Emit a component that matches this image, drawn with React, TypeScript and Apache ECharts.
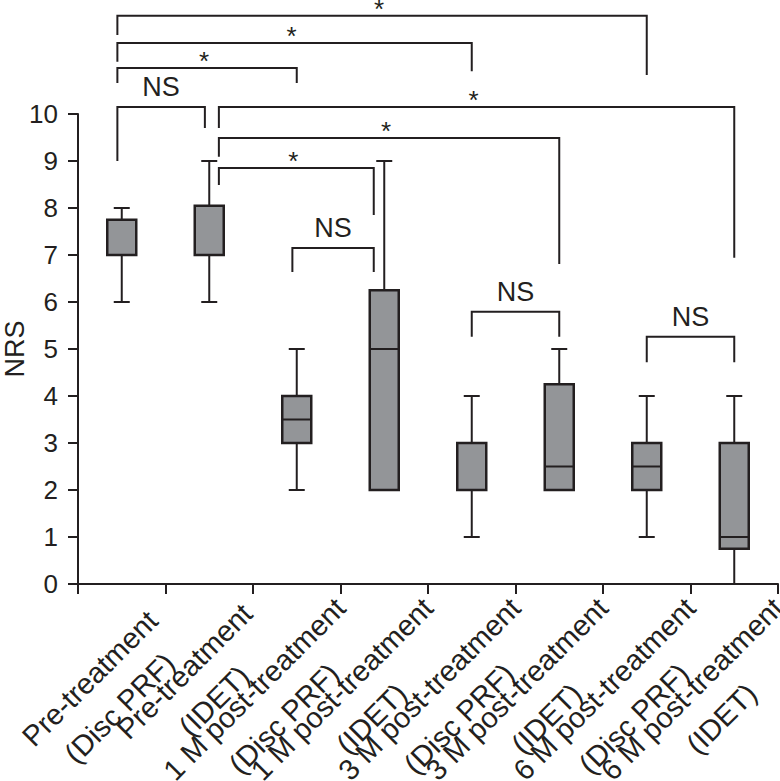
import React, { useEffect, useRef } from "react";
import * as echarts from "echarts";

const categories = [
  "Pre-treatment\n(Disc PRF)",
  "Pre-treatment\n(IDET)",
  "1 M post-treatment\n(Disc PRF)",
  "1 M post-treatment\n(IDET)",
  "3 M post-treatment\n(Disc PRF)",
  "3 M post-treatment\n(IDET)",
  "6 M post-treatment\n(Disc PRF)",
  "6 M post-treatment\n(IDET)",
];
const boxMin = [6, 6, 2, 2, 1, 2, 1, 0];
const boxQ1 = [7, 7, 3, 2, 2, 2, 2, 0.75];
const boxMedian = [7, 7, 3.5, 5, 2, 2.5, 2.5, 1];
const boxQ3 = [7.75, 8.05, 4, 6.25, 3, 4.25, 3, 3];
const boxMax = [8, 9, 5, 9, 4, 5, 4, 4];

// Significance brackets (x in category-index units, y in NRS units)
const bracketX1 = [-0.05, -0.05, -0.05, -0.05, 1.11, 1.11, 1.11, 1.95, 4.0, 6.0];
const bracketX2 = [6.0, 4.0, 2.0, 0.95, 7.0, 5.0, 2.88, 2.88, 5.0, 7.0];
const bracketY = [12.09, 11.51, 10.98, 10.15, 10.15, 9.49, 8.85, 7.15, 5.79, 5.26];
const bracketLegLeft = [11.68, 11.11, 10.66, 9.0, 9.7, 9.09, 8.49, 6.64, 5.26, 4.72];
const bracketLegRight = [10.83, 10.91, 10.66, 9.7, 6.94, 6.81, 7.85, 6.64, 5.26, 4.72];
const bracketLabels = ["*", "*", "*", "NS", "*", "*", "*", "NS", "NS", "NS"];

const yTicks = [0, 10, 1];

const INK = "#231f20";
const FILL = "#939598";
const FONT = "'Liberation Sans', Arial, Helvetica, sans-serif";
// per-label leftward nudge (px, along the text direction)
const LABEL_NUDGE = [18, 8, 0, 0, 0, 0, 0, 0];

function measure(text: string, font: string): number {
  const ctx = document.createElement("canvas").getContext("2d");
  if (!ctx) return text.length * 14;
  ctx.font = font;
  return ctx.measureText(text).width;
}

export default function App() {
  const ref = useRef<HTMLDivElement>(null);
  useEffect(() => {
    if (!ref.current) return;
    const chart = echarts.init(ref.current, undefined, { renderer: "svg" });
    const labelSize = 29;
    const rich: Record<string, any> = {};
    categories.forEach((c, i) => {
      const lines = c.split("\n");
      const w = Math.ceil(Math.max(...lines.map((l) => measure(l, `${labelSize}px ${FONT}`))));
      rich["l" + i] = {
        width: w,
        align: "center",
        fontSize: labelSize,
        lineHeight: 42,
        fontFamily: FONT,
        color: INK,
        padding: [0, LABEL_NUDGE[i], 0, 0],
      };
    });

    const boxData = categories.map((_, i) => [i, boxMin[i], boxQ1[i], boxMedian[i], boxQ3[i], boxMax[i]]);
    const bracketData = bracketY.map((y, i) => [bracketX1[i], bracketX2[i], y, bracketLegLeft[i], bracketLegRight[i]]);

    const option: any = {
      animation: false,
      backgroundColor: "#ffffff",
      grid: { left: 78, right: 2, top: 114, bottom: 197, containLabel: false, outerBoundsMode: "none" },
      xAxis: [
        {
          type: "category",
          data: categories,
          boundaryGap: true,
          axisLine: { onZero: false, lineStyle: { color: INK, width: 2 } },
          axisTick: { show: true, length: 10, lineStyle: { color: INK, width: 2 } },
          axisLabel: {
            interval: 0,
            rotate: 45,
            margin: -25,
            verticalAlign: "top",
            padding: [41, 0, 0, 0],
            hideOverlap: false,
            formatter: (v: string, idx: number) =>
              v.split("\n").map((s) => `{l${idx}|${s}}`).join("\n"),
            rich,
          },
          splitLine: { show: false },
        },
        {
          type: "value",
          min: -0.5,
          max: 7.5,
          show: false,
        },
      ],
      yAxis: {
        type: "value",
        min: yTicks[0],
        max: yTicks[1],
        interval: yTicks[2],
        name: "NRS",
        nameLocation: "middle",
        nameRotate: 90,
        nameGap: 50,
        nameMoveOverlap: false,
        nameTextStyle: { fontSize: 27, fontFamily: FONT, color: INK },
        axisLine: { show: true, onZero: false, lineStyle: { color: INK, width: 2 } },
        axisTick: { show: true, length: 10, lineStyle: { color: INK, width: 2 } },
        axisLabel: { fontSize: 26, fontFamily: FONT, color: INK, margin: 20 },
        splitLine: { show: false },
      },
      series: [
        {
          type: "custom",
          name: "NRS",
          xAxisIndex: 0,
          yAxisIndex: 0,
          encode: { x: 0, y: [1, 2, 3, 4, 5] },
          data: boxData,
          clip: false,
          renderItem: (params: any, api: any) => {
            const i = api.value(0);
            const pMin = api.coord([i, api.value(1)]);
            const pQ1 = api.coord([i, api.value(2)]);
            const pMed = api.coord([i, api.value(3)]);
            const pQ3 = api.coord([i, api.value(4)]);
            const pMax = api.coord([i, api.value(5)]);
            const cx = pMed[0];
            const bw = 29;
            const cap = 16;
            const ls = { stroke: INK, lineWidth: 2 };
            return {
              type: "group",
              children: [
                { type: "line", shape: { x1: cx, y1: pQ3[1], x2: cx, y2: pMax[1] }, style: ls },
                { type: "line", shape: { x1: cx - cap / 2, y1: pMax[1], x2: cx + cap / 2, y2: pMax[1] }, style: ls },
                { type: "line", shape: { x1: cx, y1: pQ1[1], x2: cx, y2: pMin[1] }, style: ls },
                { type: "line", shape: { x1: cx - cap / 2, y1: pMin[1], x2: cx + cap / 2, y2: pMin[1] }, style: ls },
                {
                  type: "rect",
                  shape: { x: cx - bw / 2, y: pQ3[1], width: bw, height: pQ1[1] - pQ3[1] },
                  style: { fill: FILL, stroke: INK, lineWidth: 2.5 },
                },
                { type: "line", shape: { x1: cx - bw / 2, y1: pMed[1], x2: cx + bw / 2, y2: pMed[1] }, style: ls },
              ],
            };
          },
        },
        {
          type: "custom",
          name: "brackets",
          xAxisIndex: 1,
          yAxisIndex: 0,
          encode: { x: [0, 1], y: [2, 3, 4] },
          data: bracketData,
          clip: false,
          silent: true,
          renderItem: (params: any, api: any) => {
            const idx = params.dataIndex;
            const x1 = api.coord([api.value(0), api.value(2)]);
            const x2 = api.coord([api.value(1), api.value(2)]);
            const yl = api.coord([api.value(0), api.value(3)])[1];
            const yr = api.coord([api.value(1), api.value(4)])[1];
            const label = bracketLabels[idx];
            const isStar = label === "*";
            return {
              type: "group",
              children: [
                {
                  type: "polyline",
                  shape: { points: [[x1[0], yl], [x1[0], x1[1]], [x2[0], x2[1]], [x2[0], yr]] },
                  style: { stroke: INK, lineWidth: 2, fill: null },
                },
                {
                  type: "text",
                  style: {
                    text: label,
                    x: (x1[0] + x2[0]) / 2 - (isStar ? 3 : 0),
                    y: x1[1] - (isStar ? 7 : 20),
                    align: "center",
                    verticalAlign: "middle",
                    fontSize: isStar ? 26 : 27,
                    fontFamily: FONT,
                    fill: INK,
                  },
                },
              ],
            };
          },
        },
      ],
    };
    chart.setOption(option);
    return () => chart.dispose();
  }, []);
  return (
    <div
      ref={ref}
      style={{ position: "absolute", left: 0, top: 0, width: 780, height: 781, background: "#fff" }}
    />
  );
}
